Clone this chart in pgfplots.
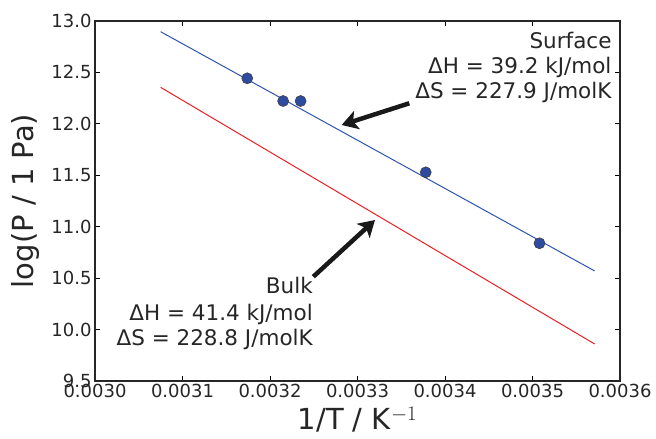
\documentclass[border=0pt]{standalone}
\usepackage{pgfplots}
\pgfplotsset{compat=1.18}
\usepackage{fontspec}
\setmainfont{DejaVu Sans}
\usetikzlibrary{arrows.meta}
\definecolor{lineblue}{RGB}{45,85,175}
\definecolor{markblue}{RGB}{45,75,160}
\definecolor{linered}{RGB}{235,30,35}
\begin{document}
\begin{tikzpicture}
\begin{axis}[
  scale only axis, width=525pt, height=360pt,
  xmin=0.0030, xmax=0.0036, ymin=9.5, ymax=13.0,
  xtick={0.0030,0.0031,0.0032,0.0033,0.0034,0.0035,0.0036},
  ytick={9.5,10.0,10.5,11.0,11.5,12.0,12.5,13.0},
  scaled x ticks=false, scaled y ticks=false,
  xticklabel style={/pgf/number format/.cd, fixed, fixed zerofill, precision=4},
  yticklabel style={/pgf/number format/.cd, fixed, fixed zerofill, precision=1},
  /pgf/number format/assume math mode=true,
  tick label style={font=\fontsize{18}{18}\selectfont, text=black!85},
  tick align=inside, major tick length=5pt,
  tick style={black, line width=0.8pt},
  axis line style={line width=1.1pt, black!85},
  xlabel={1/T / K$^{-1}$}, ylabel={log(P / 1 Pa)},
  label style={font=\fontsize{29}{29}\selectfont, text=black!85},
  ylabel style={yshift=5pt},
  xlabel style={yshift=-2pt},
  clip=false,
]
\addplot[lineblue, line width=1pt] coordinates {(0.003075,12.896) (0.003571,10.57)};
\addplot[linered, line width=1pt] coordinates {(0.003075,12.355) (0.003571,9.86)};
\addplot[only marks, mark=*, mark size=5.5pt, mark options={fill=markblue, draw=black!75, line width=0.6pt}]
  coordinates {(0.003174,12.443) (0.003215,12.222) (0.003235,12.222) (0.003378,11.529) (0.003508,10.839)};
\draw[line width=4.5pt, black!90, -{Stealth[length=16pt,width=19pt,inset=4pt]}] (axis cs:0.0033592,12.200) -- (axis cs:0.0032819,11.989);
\draw[line width=4.5pt, black!90, -{Stealth[length=16pt,width=19pt,inset=4pt]}] (axis cs:0.0032495,10.514) -- (axis cs:0.0033200,11.065);
\begin{scope}[every node/.style={anchor=base east, inner sep=0pt, font=\fontsize{21.5}{21.5}\selectfont, text=black!85}]
\node at (axis cs:0.0035905,12.735) {Surface};
\node at (axis cs:0.0035905,12.4915) {ΔH = 39.2 kJ/mol};
\node at (axis cs:0.0035905,12.248) {ΔS = 227.9 J/molK};
\node at (axis cs:0.0032491,10.346) {Bulk};
\node at (axis cs:0.0032491,10.093) {ΔH = 41.4 kJ/mol};
\node at (axis cs:0.0032491,9.843) {ΔS = 228.8 J/molK};
\end{scope}
\end{axis}
\pgfresetboundingbox
\path[use as bounding box] (current axis.south west) ++(-95pt,-58pt) rectangle ++(656pt,439pt);
\end{tikzpicture}
\end{document}
